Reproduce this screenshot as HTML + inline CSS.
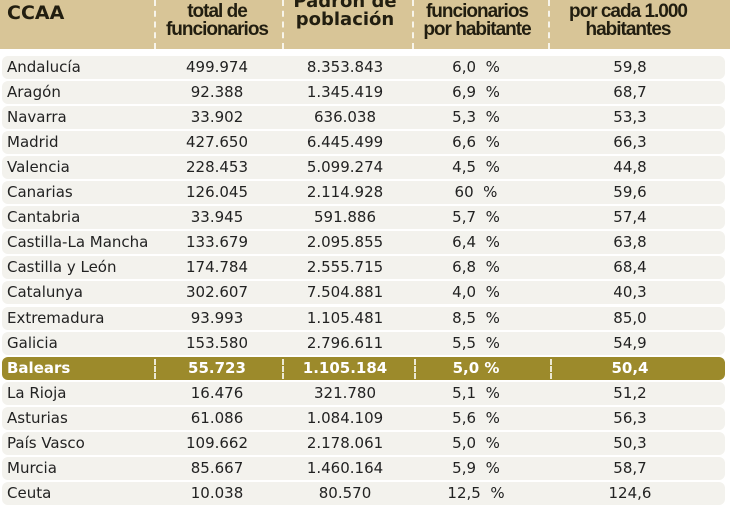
<!DOCTYPE html>
<html><head><meta charset="utf-8"><style>
body{margin:0;width:730px;height:500px;overflow:hidden;background:#fff;position:relative;font-family:"DejaVu Sans",Verdana,sans-serif;}
.hdr{position:absolute;left:0;top:0;width:730px;height:49px;background:#d8c597;}
.h{position:absolute;font-family:"Liberation Sans",sans-serif;font-weight:bold;font-size:19px;line-height:18px;color:#221e10;text-align:center;letter-spacing:-1px;}
.v{font-family:"DejaVu Sans",sans-serif;font-size:18px;letter-spacing:0;}
.sep{position:absolute;top:0;width:0;border-left:2px dashed rgba(255,255,255,0.8);}
.row{position:absolute;left:2px;width:723px;height:23px;background:#f3f2ed;border-radius:6px;font-size:15px;line-height:23px;color:#222;}
.row span{position:absolute;top:0;white-space:nowrap;}
.c0{left:5px;}
.c1{left:150px;width:130px;text-align:center;}
.c2{left:278px;width:130px;text-align:center;}
.c3{left:412px;width:124px;text-align:center;}
.c4{left:548px;width:160px;text-align:center;}
.hl{background:#9c8a2b;color:#fff;font-weight:bold;}
</style></head><body>
<div class="hdr"></div>
<div class="h v" style="left:7px;top:4px;text-align:left;font-size:19px">CCAA</div>
<div class="h" style="left:150px;width:134px;top:3px">total de<br>funcionarios</div>
<div class="h v" style="left:278px;width:134px;top:-7px">Padrón de<br>población</div>
<div class="h" style="left:410px;width:134px;top:3px">funcionarios<br>por habitante</div>
<div class="h" style="left:548px;width:160px;top:3px">por cada 1.000<br>habitantes</div>
<div class="sep" style="left:154px;height:49px"></div>
<div class="sep" style="left:282px;height:49px"></div>
<div class="sep" style="left:412px;height:49px"></div>
<div class="sep" style="left:548px;height:49px"></div>
<div class="row" style="top:56px"><span class="c0">Andalucía</span><span class="c1">499.974</span><span class="c2">8.353.843</span><span class="c3">6,0 &nbsp;%</span><span class="c4">59,8</span></div>
<div class="row" style="top:81px"><span class="c0">Aragón</span><span class="c1">92.388</span><span class="c2">1.345.419</span><span class="c3">6,9 &nbsp;%</span><span class="c4">68,7</span></div>
<div class="row" style="top:106px"><span class="c0">Navarra</span><span class="c1">33.902</span><span class="c2">636.038</span><span class="c3">5,3 &nbsp;%</span><span class="c4">53,3</span></div>
<div class="row" style="top:131px"><span class="c0">Madrid</span><span class="c1">427.650</span><span class="c2">6.445.499</span><span class="c3">6,6 &nbsp;%</span><span class="c4">66,3</span></div>
<div class="row" style="top:156px"><span class="c0">Valencia</span><span class="c1">228.453</span><span class="c2">5.099.274</span><span class="c3">4,5 &nbsp;%</span><span class="c4">44,8</span></div>
<div class="row" style="top:181px"><span class="c0">Canarias</span><span class="c1">126.045</span><span class="c2">2.114.928</span><span class="c3">60 &nbsp;%</span><span class="c4">59,6</span></div>
<div class="row" style="top:206px"><span class="c0">Cantabria</span><span class="c1">33.945</span><span class="c2">591.886</span><span class="c3">5,7 &nbsp;%</span><span class="c4">57,4</span></div>
<div class="row" style="top:231px"><span class="c0">Castilla-La Mancha</span><span class="c1">133.679</span><span class="c2">2.095.855</span><span class="c3">6,4 &nbsp;%</span><span class="c4">63,8</span></div>
<div class="row" style="top:256px"><span class="c0">Castilla y León</span><span class="c1">174.784</span><span class="c2">2.555.715</span><span class="c3">6,8 &nbsp;%</span><span class="c4">68,4</span></div>
<div class="row" style="top:281px"><span class="c0">Catalunya</span><span class="c1">302.607</span><span class="c2">7.504.881</span><span class="c3">4,0 &nbsp;%</span><span class="c4">40,3</span></div>
<div class="row" style="top:307px"><span class="c0">Extremadura</span><span class="c1">93.993</span><span class="c2">1.105.481</span><span class="c3">8,5 &nbsp;%</span><span class="c4">85,0</span></div>
<div class="row" style="top:332px"><span class="c0">Galicia</span><span class="c1">153.580</span><span class="c2">2.796.611</span><span class="c3">5,5 &nbsp;%</span><span class="c4">54,9</span></div>
<div class="row hl" style="top:357px"><span class="c0">Balears</span><span class="c1">55.723</span><span class="c2">1.105.184</span><span class="c3">5,0 %</span><span class="c4">50,4</span></div>
<div class="sep" style="left:154px;top:359px;height:20px"></div>
<div class="sep" style="left:282px;top:359px;height:20px"></div>
<div class="sep" style="left:414px;top:359px;height:20px"></div>
<div class="sep" style="left:550px;top:359px;height:20px"></div>
<div class="row" style="top:382px"><span class="c0">La Rioja</span><span class="c1">16.476</span><span class="c2">321.780</span><span class="c3">5,1 &nbsp;%</span><span class="c4">51,2</span></div>
<div class="row" style="top:407px"><span class="c0">Asturias</span><span class="c1">61.086</span><span class="c2">1.084.109</span><span class="c3">5,6 &nbsp;%</span><span class="c4">56,3</span></div>
<div class="row" style="top:432px"><span class="c0">País Vasco</span><span class="c1">109.662</span><span class="c2">2.178.061</span><span class="c3">5,0 &nbsp;%</span><span class="c4">50,3</span></div>
<div class="row" style="top:457px"><span class="c0">Murcia</span><span class="c1">85.667</span><span class="c2">1.460.164</span><span class="c3">5,9 &nbsp;%</span><span class="c4">58,7</span></div>
<div class="row" style="top:482px"><span class="c0">Ceuta</span><span class="c1">10.038</span><span class="c2">80.570</span><span class="c3">12,5 &nbsp;%</span><span class="c4">124,6</span></div>
</body></html>
